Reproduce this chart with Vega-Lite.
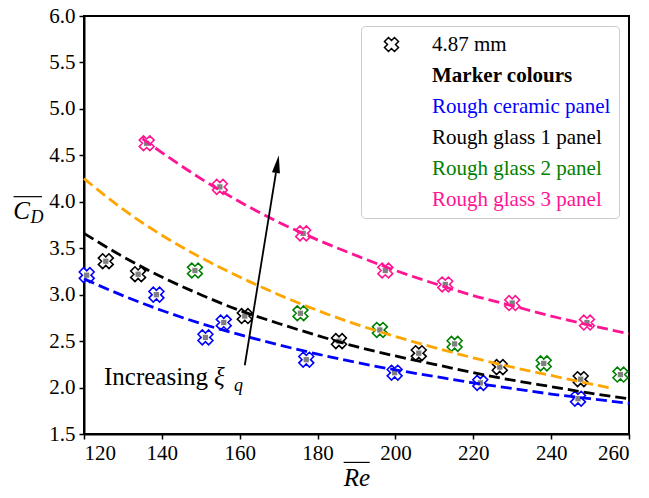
{
  "$schema": "https://vega.github.io/schema/vega-lite/v6.json",
  "width": 545,
  "height": 418,
  "autosize": {"type": "none"},
  "padding": {"left": 84, "top": 16, "right": 20, "bottom": 64},
  "background": "white",
  "config": {
    "font": "Liberation Serif, Times New Roman, serif",
    "view": {"stroke": "black", "strokeWidth": 2},
    "axis": {
      "labelFont": "Liberation Serif, Times New Roman, serif", "labelFontSize": 21, "labelColor": "black",
      "domainColor": "black", "domainWidth": 2, "tickColor": "black", "tickWidth": 1.5, "tickSize": 5,
      "grid": false, "titleFont": "Liberation Serif, Times New Roman, serif", "titleFontWeight": "normal", "titleColor": "black"
    },
    "text": {"font": "Liberation Serif, Times New Roman, serif"},
    "legend": {
      "orient": "top-right", "offset": 10, "padding": 8,
      "strokeColor": "#cccccc", "fillColor": "rgba(255,255,255,0.8)", "cornerRadius": 4,
      "labelFont": "Liberation Serif, Times New Roman, serif", "labelFontSize": 21, "labelLimit": 400,
      "rowPadding": 9, "symbolSize": 200, "symbolStrokeWidth": 1.5, "labelOffset": 30, "symbolOffset": 12
    }
  },
  "datasets": {
    "points": [
      {"panel": "Rough ceramic panel", "Re": 120.7, "CD": 3.21},
      {"panel": "Rough ceramic panel", "Re": 138.6, "CD": 3.00},
      {"panel": "Rough ceramic panel", "Re": 151.2, "CD": 2.54},
      {"panel": "Rough ceramic panel", "Re": 155.9, "CD": 2.70},
      {"panel": "Rough ceramic panel", "Re": 177.1, "CD": 2.30},
      {"panel": "Rough ceramic panel", "Re": 199.8, "CD": 2.16},
      {"panel": "Rough ceramic panel", "Re": 221.8, "CD": 2.05},
      {"panel": "Rough ceramic panel", "Re": 246.9, "CD": 1.88},
      {"panel": "Rough glass 1 panel", "Re": 125.6, "CD": 3.36},
      {"panel": "Rough glass 1 panel", "Re": 133.9, "CD": 3.22},
      {"panel": "Rough glass 1 panel", "Re": 161.3, "CD": 2.77},
      {"panel": "Rough glass 1 panel", "Re": 185.5, "CD": 2.50},
      {"panel": "Rough glass 1 panel", "Re": 206.0, "CD": 2.37},
      {"panel": "Rough glass 1 panel", "Re": 226.8, "CD": 2.22},
      {"panel": "Rough glass 1 panel", "Re": 247.6, "CD": 2.09},
      {"panel": "Rough glass 2 panel", "Re": 148.5, "CD": 3.26},
      {"panel": "Rough glass 2 panel", "Re": 175.6, "CD": 2.80},
      {"panel": "Rough glass 2 panel", "Re": 196.0, "CD": 2.62},
      {"panel": "Rough glass 2 panel", "Re": 215.2, "CD": 2.47},
      {"panel": "Rough glass 2 panel", "Re": 238.1, "CD": 2.26},
      {"panel": "Rough glass 2 panel", "Re": 257.8, "CD": 2.14},
      {"panel": "Rough glass 3 panel", "Re": 136.1, "CD": 4.63},
      {"panel": "Rough glass 3 panel", "Re": 154.9, "CD": 4.16},
      {"panel": "Rough glass 3 panel", "Re": 176.3, "CD": 3.66},
      {"panel": "Rough glass 3 panel", "Re": 197.4, "CD": 3.26},
      {"panel": "Rough glass 3 panel", "Re": 212.8, "CD": 3.11},
      {"panel": "Rough glass 3 panel", "Re": 230.0, "CD": 2.91},
      {"panel": "Rough glass 3 panel", "Re": 249.2, "CD": 2.70}
    ],
    "fits": [
      {"fit": "ceramic", "Re": 120, "CD": 3.17}, {"fit": "ceramic", "Re": 130, "CD": 2.99},
      {"fit": "ceramic", "Re": 140, "CD": 2.83}, {"fit": "ceramic", "Re": 150, "CD": 2.69},
      {"fit": "ceramic", "Re": 160, "CD": 2.57}, {"fit": "ceramic", "Re": 170, "CD": 2.46},
      {"fit": "ceramic", "Re": 180, "CD": 2.36}, {"fit": "ceramic", "Re": 190, "CD": 2.27},
      {"fit": "ceramic", "Re": 200, "CD": 2.19}, {"fit": "ceramic", "Re": 210, "CD": 2.12},
      {"fit": "ceramic", "Re": 220, "CD": 2.05}, {"fit": "ceramic", "Re": 230, "CD": 1.99},
      {"fit": "ceramic", "Re": 240, "CD": 1.93}, {"fit": "ceramic", "Re": 250, "CD": 1.88},
      {"fit": "ceramic", "Re": 260, "CD": 1.83},
      {"fit": "glass1", "Re": 120, "CD": 3.66}, {"fit": "glass1", "Re": 130, "CD": 3.41},
      {"fit": "glass1", "Re": 140, "CD": 3.19}, {"fit": "glass1", "Re": 150, "CD": 3.00},
      {"fit": "glass1", "Re": 160, "CD": 2.83}, {"fit": "glass1", "Re": 170, "CD": 2.69},
      {"fit": "glass1", "Re": 180, "CD": 2.56}, {"fit": "glass1", "Re": 190, "CD": 2.44},
      {"fit": "glass1", "Re": 200, "CD": 2.34}, {"fit": "glass1", "Re": 210, "CD": 2.25},
      {"fit": "glass1", "Re": 220, "CD": 2.16}, {"fit": "glass1", "Re": 230, "CD": 2.08},
      {"fit": "glass1", "Re": 240, "CD": 2.01}, {"fit": "glass1", "Re": 250, "CD": 1.94},
      {"fit": "glass1", "Re": 260, "CD": 1.88},
      {"fit": "glass2", "Re": 120, "CD": 4.25}, {"fit": "glass2", "Re": 130, "CD": 3.92},
      {"fit": "glass2", "Re": 140, "CD": 3.64}, {"fit": "glass2", "Re": 150, "CD": 3.40},
      {"fit": "glass2", "Re": 160, "CD": 3.19}, {"fit": "glass2", "Re": 170, "CD": 3.00},
      {"fit": "glass2", "Re": 180, "CD": 2.83}, {"fit": "glass2", "Re": 190, "CD": 2.68},
      {"fit": "glass2", "Re": 200, "CD": 2.55}, {"fit": "glass2", "Re": 210, "CD": 2.43},
      {"fit": "glass2", "Re": 220, "CD": 2.32}, {"fit": "glass2", "Re": 230, "CD": 2.22},
      {"fit": "glass2", "Re": 240, "CD": 2.13}, {"fit": "glass2", "Re": 250, "CD": 2.04},
      {"fit": "glass2", "Re": 256, "CD": 1.99},
      {"fit": "glass3", "Re": 135, "CD": 4.68}, {"fit": "glass3", "Re": 140, "CD": 4.53},
      {"fit": "glass3", "Re": 150, "CD": 4.25}, {"fit": "glass3", "Re": 160, "CD": 4.00},
      {"fit": "glass3", "Re": 170, "CD": 3.78}, {"fit": "glass3", "Re": 180, "CD": 3.59},
      {"fit": "glass3", "Re": 190, "CD": 3.42}, {"fit": "glass3", "Re": 200, "CD": 3.26},
      {"fit": "glass3", "Re": 210, "CD": 3.12}, {"fit": "glass3", "Re": 220, "CD": 2.99},
      {"fit": "glass3", "Re": 230, "CD": 2.88}, {"fit": "glass3", "Re": 240, "CD": 2.77},
      {"fit": "glass3", "Re": 250, "CD": 2.67}, {"fit": "glass3", "Re": 260, "CD": 2.58}
    ]
  },
  "layer": [
    {
      "data": {"name": "points"},
      "mark": {"type": "point", "shape": "M0.99,-0.42L0.57,0L0.99,0.42L0.42,0.99L0,0.57L-0.42,0.99L-0.99,0.42L-0.57,0L-0.99,-0.42L-0.42,-0.99L0,-0.57L0.42,-0.99Z", "size": 225, "fill": "white", "fillOpacity": 1, "strokeWidth": 1.6, "opacity": 1},
      "encoding": {
        "x": {"field": "Re", "type": "quantitative", "scale": {"domain": [120, 260], "nice": false, "zero": false},
          "axis": {"values": [120, 140, 160, 180, 200, 220, 240, 260], "labelPadding": 3, "title": "Re", "titleFontStyle": "italic", "titleFontSize": 25, "titlePadding": 2}},
        "y": {"field": "CD", "type": "quantitative", "scale": {"domain": [1.5, 6], "nice": false, "zero": false},
          "axis": {"values": [1.5, 2, 2.5, 3, 3.5, 4, 4.5, 5, 5.5, 6], "format": ".1f", "labelPadding": 4,
            "title": "C", "titleFontStyle": "italic", "titleFontSize": 25, "titleAngle": 0, "titleAlign": "left", "titleBaseline": "alphabetic", "titleX": -71.3, "titleY": 202}},
        "stroke": {"field": "panel", "type": "nominal",
          "scale": {"domain": ["4.87 mm", "Marker colours", "Rough ceramic panel", "Rough glass 1 panel", "Rough glass 2 panel", "Rough glass 3 panel"],
            "range": ["#000000", "#000000", "#0000ff", "#000000", "#008000", "#ff1493"]},
          "legend": {
            "title": null,
            "labelColor": {"expr": "datum.label === 'Rough ceramic panel' ? '#0000ff' : datum.label === 'Rough glass 2 panel' ? '#008000' : datum.label === 'Rough glass 3 panel' ? '#ff1493' : '#000000'"},
            "labelFontWeight": {"expr": "datum.label === 'Marker colours' ? 'bold' : 'normal'"},
            "symbolOpacity": {"expr": "datum.label === '4.87 mm' ? 1 : 0"},
            "symbolFillColor": "#dddddd"
          }
        }
      }
    },
    {
      "data": {"name": "points"},
      "mark": {"type": "point", "shape": "square", "size": 28, "filled": true, "color": "#808080", "opacity": 1},
      "encoding": {
        "x": {"field": "Re", "type": "quantitative"},
        "y": {"field": "CD", "type": "quantitative"}
      }
    },
    {
      "data": {"name": "fits"},
      "mark": {"type": "line", "strokeDash": [11, 5], "strokeWidth": 2.8, "interpolate": "monotone"},
      "encoding": {
        "x": {"field": "Re", "type": "quantitative"},
        "y": {"field": "CD", "type": "quantitative"},
        "color": {"field": "fit", "type": "nominal",
          "scale": {"domain": ["ceramic", "glass1", "glass2", "glass3"], "range": ["#0000ff", "#000000", "#ffa500", "#ff1493"]},
          "legend": null}
      }
    },
    {
      "data": {"values": [{"Re": 161.3, "CD": 2.24, "Re2": 169.3, "CD2": 4.31}]},
      "mark": {"type": "rule", "color": "black", "strokeWidth": 1.8},
      "encoding": {
        "x": {"field": "Re", "type": "quantitative"},
        "y": {"field": "CD", "type": "quantitative"},
        "x2": {"field": "Re2"},
        "y2": {"field": "CD2"}
      }
    },
    {
      "data": {"values": [{"Re": 169.3, "CD": 4.31}]},
      "mark": {"type": "point", "shape": "M0.32,-1.97L0.44,0.07L-0.44,-0.07Z", "size": 324, "filled": true, "color": "black", "opacity": 1},
      "encoding": {
        "x": {"field": "Re", "type": "quantitative"},
        "y": {"field": "CD", "type": "quantitative"}
      }
    },
    {
      "data": {"values": [{"Re": 125.13, "CD": 2.024, "label": "Increasing"}]},
      "mark": {"type": "text", "align": "left", "baseline": "alphabetic", "fontSize": 25, "color": "black"},
      "encoding": {
        "x": {"field": "Re", "type": "quantitative"},
        "y": {"field": "CD", "type": "quantitative"},
        "text": {"field": "label"}
      }
    },
    {
      "data": {"values": [{"Re": 153.37, "CD": 2.024, "label": "ξ"}]},
      "mark": {"type": "text", "align": "left", "baseline": "alphabetic", "fontStyle": "italic", "fontSize": 25, "color": "black"},
      "encoding": {
        "x": {"field": "Re", "type": "quantitative"},
        "y": {"field": "CD", "type": "quantitative"},
        "text": {"field": "label"}
      }
    },
    {
      "data": {"values": [{"Re": 158.5, "CD": 1.959, "label": "q"}]},
      "mark": {"type": "text", "align": "left", "baseline": "alphabetic", "fontStyle": "italic", "fontSize": 18, "color": "black"},
      "encoding": {
        "x": {"field": "Re", "type": "quantitative"},
        "y": {"field": "CD", "type": "quantitative"},
        "text": {"field": "label"}
      }
    },
    {
      "data": {"values": [{"Re": 106.27, "CD": 3.769, "label": "D"}]},
      "mark": {"type": "text", "align": "left", "baseline": "alphabetic", "fontStyle": "italic", "fontSize": 18, "color": "black"},
      "encoding": {
        "x": {"field": "Re", "type": "quantitative"},
        "y": {"field": "CD", "type": "quantitative"},
        "text": {"field": "label"}
      }
    },
    {
      "data": {"values": [{"Re": 101.9, "Re2": 109.22, "CD": 4.055}]},
      "mark": {"type": "rule", "color": "black", "strokeWidth": 1.2},
      "encoding": {
        "x": {"field": "Re", "type": "quantitative"},
        "x2": {"field": "Re2"},
        "y": {"field": "CD", "type": "quantitative"}
      }
    },
    {
      "data": {"values": [{"Re": 186.7, "Re2": 193.4, "CD": 1.194}]},
      "mark": {"type": "rule", "color": "black", "strokeWidth": 1.2},
      "encoding": {
        "x": {"field": "Re", "type": "quantitative"},
        "x2": {"field": "Re2"},
        "y": {"field": "CD", "type": "quantitative"}
      }
    }
  ]
}
